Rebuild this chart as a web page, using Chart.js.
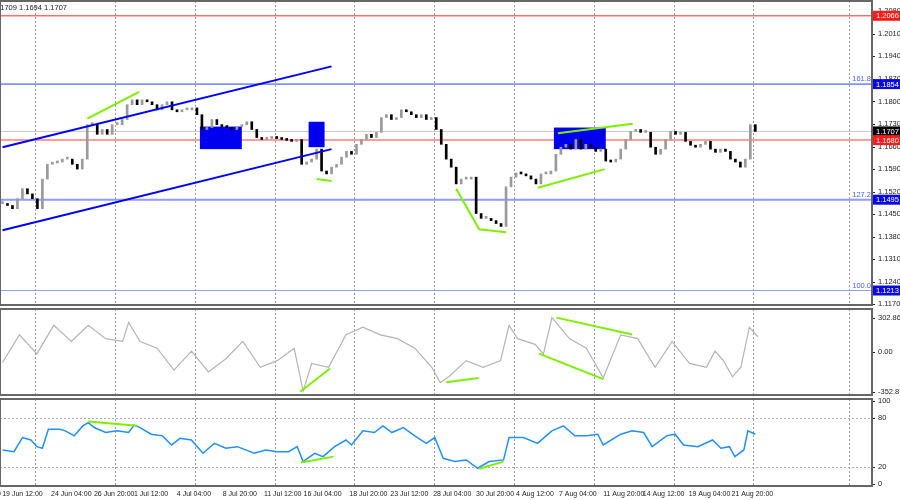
<!DOCTYPE html>
<html><head><meta charset="utf-8">
<script src="https://cdn.jsdelivr.net/npm/chart.js@4.4.1/dist/chart.umd.min.js"></script>
<style>
html,body{margin:0;padding:0;background:#fff;width:900px;height:500px;overflow:hidden}
.w{position:absolute;left:0;width:900px}
#a{top:0;height:306px}#b{top:306px;height:90px}#c{top:396px;height:104px}
</style></head><body>
<div class="w" id="a"><canvas id="c1"></canvas></div>
<div class="w" id="b"><canvas id="c2"></canvas></div>
<div class="w" id="c"><canvas id="c3"></canvas></div>
<script>
// ---- data ----
const closes=[1.1483,1.1477,1.1467,1.1498,1.1529,1.1513,1.1498,1.1467,1.1559,1.1605,1.1609,1.1612,1.1621,1.1621,1.1605,1.1590,1.1621,1.1728,1.1728,1.1698,
1.1713,1.1698,1.1728,1.1728,1.1744,1.1790,1.1805,1.1790,1.1805,1.1799,1.1790,1.1774,1.1790,1.1799,1.1774,1.1768,1.1774,1.1774,1.1780,1.1759,
1.1713,1.1719,1.1744,1.1728,1.1722,1.1719,1.1713,1.1722,1.1728,1.1737,1.1713,1.1688,1.1682,1.1685,1.1688,1.1685,1.1682,1.1679,1.1676,1.1682,
1.1605,1.1612,1.1621,1.1652,1.1584,1.1575,1.1596,1.1605,1.1627,1.1645,1.1636,1.1667,1.1682,1.1698,1.1688,1.1704,1.1750,1.1759,1.1744,1.1750,
1.1774,1.1768,1.1759,1.1750,1.1759,1.1744,1.1750,1.1713,1.1667,1.1621,1.1596,1.1544,1.1559,1.1559,1.1565,1.1452,1.1437,1.1437,1.1430,1.1421,
1.1412,1.1535,1.1565,1.1578,1.1575,1.1569,1.1559,1.1544,1.1575,1.1575,1.1584,1.1636,1.1658,1.1667,1.1652,1.1682,1.1652,1.1667,1.1658,1.1645,
1.1652,1.1615,1.1612,1.1621,1.1652,1.1682,1.1707,1.1713,1.1704,1.1704,1.1658,1.1636,1.1652,1.1682,1.1707,1.1698,1.1704,1.1676,1.1664,1.1658,
1.1667,1.1676,1.1652,1.1642,1.1652,1.1645,1.1621,1.1612,1.1596,1.1621,1.1728,1.1707];
const priceTicks=[1.2080,1.2010,1.1940,1.1870,1.1800,1.1730,1.1660,1.1590,1.1520,1.1450,1.1380,1.1310,1.1240,1.1170];
const levels=[1.2066,1.1854,1.1707,1.1680,1.1495,1.1213];
const levelColors=['#ff2a2a','#2a40ff','#c8c8c8','#ff9d9d','#8f9dff','#8f9dff'];
const levelWidths=[1,1,1,2,2,1];
const priceBoxes=[[1.2066,'#ff1a1a'],[1.1854,'#0a0ae0'],[1.1707,'#000000'],[1.1680,'#ff1a1a'],[1.1495,'#0a0ae0'],[1.1213,'#0a0ae0']];
const fibLabels=[['161.8',1.1854],['127.2',1.1495],['100.0',1.1213]];
const channelUp=[[0,1.1658],[66,1.1909]], channelDn=[[0,1.1400],[66,1.1652]];
const greenPrice=[[[17,1.1747],[27.4,1.1830]],[[63,1.1559],[66,1.1553]],[[91,1.1529],[95.6,1.1403],[101,1.1394]],[[107.4,1.1532],[120.8,1.1590]],[[111.4,1.1701],[126.4,1.1731]]];
const boxes=[[39.6,48,1.1722,1.1652],[61.4,64.6,1.1737,1.1658],[110.6,121,1.1719,1.1652]];
const cciX=[0,3.4,6.9,10.3,13.8,17.2,20.7,24.1,25.3,27.6,31,34.4,37.9,41.3,44.8,48.2,51.7,55.1,58.5,60.3,62,65.4,68.9,72.3,75.8,79.2,82.7,86.1,87.8,89.5,93,96.4,99.9,101.6,103.3,106.8,108.5,110.2,113.7,117.1,120.5,124,127.4,130.9,134.3,137.8,141.2,142.9,144.6,146.4,148.1,149.8,151.5];
const cciV=[-94,153,-17,238,94,238,119,94,264,94,34,-162,8,-178,-60,94,-136,-77,34,-349,-102,-136,153,221,153,119,34,-136,-272,-221,-77,-136,-77,238,119,68,-17,306,119,34,-230,153,119,-136,94,-102,-136,8,-77,-221,-136,221,136];
const cciTicks=[[302.8654,'302.8654'],[0,'0.00'],[-352.872,'-352.872']];
const cciGreen=[[[59.7,-354],[65.7,-147]],[[89,-269],[95.5,-232]],[[111.1,306],[126.3,156]],[[107.6,-14],[120.5,-241]]];
const rsiX=[0,2.3,4,5.7,6.9,8,9.2,11.5,12.6,14.4,16.1,17.2,18.4,20.7,23,25.3,26.4,27.6,29.8,32.1,33.9,35.6,37.9,40.2,42.5,44.8,47.1,50.5,52.8,55.1,57.4,59.1,60.3,62.6,64.3,66.6,68.9,70,72.3,74.6,76.3,78.1,80.4,82.7,85,86.7,88.4,90.7,93,95.3,97.6,100.5,101.6,104.5,107.3,110.2,112.5,114.8,117.1,119.4,120.5,124,126.3,128.6,130.3,133.2,134.9,136.6,139.5,142.4,144.1,145.8,146.9,148.7,149.5,151];
const rsiV=[41,39,56,53,45,43,66,66,64,58,70,74,68,62,64,62,71,68,60,58,47,55,53,37,49,43,45,37,41,39,39,45,27,37,33,45,53,47,64,62,70,62,68,58,49,56,31,27,29,19,27,29,56,56,49,64,70,58,58,60,47,60,64,62,45,58,60,47,45,53,43,45,33,41,64,60];
const rsiTicks=[[100,'100'],[80,'80'],[20,'20'],[0,'0']];
const rsiGreen=[[[17.2,75.3],[27,70.2]],[[59.9,26],[66.4,33]],[[95.6,18.4],[100.5,27]]];
const dateLabels=['19 Jun 12:00','24 Jun 04:00','26 Jun 20:00','1 Jul 12:00','4 Jul 04:00','8 Jul 20:00','11 Jul 12:00','16 Jul 04:00','18 Jul 20:00','23 Jul 12:00','28 Jul 04:00','30 Jul 20:00','4 Aug 12:00','7 Aug 04:00','11 Aug 20:00','14 Aug 12:00','19 Aug 04:00','21 Aug 20:00'];
const dateAt=[4,13.8,22.4,29.8,38.4,47.6,56.2,64.2,73.4,81.6,90.2,98.8,106.8,115.4,124.6,132.6,141.8,150.4];
const vGrid=[6.6,22.6,38.6,54.6,70.6,86.6,102.6,118.6,134.6,150.6,169.8];

// ---- helpers ----
const XMAX=174.4, SF='7.5px "Liberation Sans", Arial', DF='7px "Liberation Sans", Arial';
Chart.defaults.font.family='"Liberation Sans", Arial';
const xScale={type:'linear',min:-0.5,max:XMAX,display:false,offset:false};
function yAxis(min,max){return {display:false,min,max};}
function seg(pts,color,w){return {type:'line',data:pts.map(p=>({x:p[0],y:p[1]})),borderColor:color,borderWidth:w,pointRadius:0,tension:0,order:0};}
function tickPlug(list){return {id:'t',afterDraw(c){const y=c.scales.y,a=c.chartArea,g=c.ctx;g.save();g.font=SF;g.fillStyle='#222';g.textBaseline='middle';g.textAlign='left';
 list.forEach(t=>{const p=y.getPixelForValue(t[0]);g.fillText(t[1],a.right+6,p);g.fillRect(a.right,Math.round(p),3,1);});g.restore();}};}
const gridPlug={id:'g',beforeDatasetsDraw(c){const x=c.scales.x,a=c.chartArea,g=c.ctx;g.save();g.strokeStyle='#9a9a9a';g.setLineDash([2,2]);g.lineWidth=1;
 vGrid.forEach(v=>{const p=Math.round(x.getPixelForValue(v))+.5;g.beginPath();g.moveTo(p,a.top);g.lineTo(p,a.bottom);g.stroke();});g.restore();}};
const frame={id:'f',afterDraw(c){const a=c.chartArea,g=c.ctx;g.save();g.strokeStyle='#666';g.lineWidth=2;g.strokeRect(a.left,a.top,a.right-a.left,a.bottom-a.top);g.restore();}};
const opts=(y,pad)=>({responsive:true,maintainAspectRatio:false,animation:false,layout:{padding:Object.assign({left:0,right:28,top:1,bottom:1},pad||{})},plugins:{legend:{display:false},tooltip:{enabled:false}},scales:{x:xScale,y}});

// ---- price panel ----
const bodies=closes.map((c,i)=>({x:i,y:[i?closes[i-1]:c,c]}));
const pricePlug={id:'p',beforeDatasetsDraw(c){const x=c.scales.x,y=c.scales.y,a=c.chartArea,g=c.ctx;g.save();
 levels.forEach((l,i)=>{const p=y.getPixelForValue(l);g.strokeStyle=levelColors[i];g.lineWidth=levelWidths[i];g.beginPath();g.moveTo(a.left,p);g.lineTo(a.right,p);g.stroke();});
 g.fillStyle='#0000f0';boxes.forEach(b=>{const x1=x.getPixelForValue(b[0]),x2=x.getPixelForValue(b[1]),y1=y.getPixelForValue(b[2]),y2=y.getPixelForValue(b[3]);g.fillRect(x1,y1,x2-x1,y2-y1);});
 g.font=SF;g.fillStyle='#5060ff';g.textAlign='right';fibLabels.forEach(f=>g.fillText(f[0],a.right-1,y.getPixelForValue(f[1])-3));
 g.restore();},
 afterDraw(c){const y=c.scales.y,a=c.chartArea,g=c.ctx;g.save();g.font=SF;g.textBaseline='middle';
 priceBoxes.forEach(b=>{const p=y.getPixelForValue(b[0]);g.fillStyle=b[1];g.fillRect(a.right+1,p-5,27,10);g.fillStyle='#fff';g.textAlign='left';g.fillText(b[0].toFixed(4),a.right+4,p+0.5);});
 g.fillStyle='#222';g.textBaseline='alphabetic';g.fillText('1.1709 1.1694 1.1707',-6,10);g.restore();}};
new Chart(document.getElementById('c1'),{type:'bar',data:{datasets:[
 {type:'bar',data:bodies,backgroundColor:bodies.map(b=>b.y[1]>=b.y[0]?'#9a9a9a':'#000'),borderWidth:0,barThickness:2,minBarLength:2,order:1},
 seg(channelUp,'#0000ff',2),seg(channelDn,'#0000ff',2),...greenPrice.map(s=>seg(s,'#7cf000',2))]},
 options:opts(yAxis(1.1168,1.2112)),plugins:[gridPlug,tickPlug(priceTicks.map(v=>[v,v.toFixed(4)])),pricePlug,frame]});

// ---- CCI panel ----
new Chart(document.getElementById('c2'),{type:'line',data:{datasets:[
 {data:cciX.map((v,i)=>({x:v,y:cciV[i]})),borderColor:'#b4b4b4',borderWidth:1.2,pointRadius:0,tension:0,order:1},...cciGreen.map(s=>seg(s,'#7cf000',2))]},
 options:opts(yAxis(-383,383),{top:3}),plugins:[gridPlug,tickPlug(cciTicks),frame]});

// ---- RSI panel ----
const rsiPlug={id:'r',beforeDatasetsDraw(c){const y=c.scales.y,a=c.chartArea,g=c.ctx;g.save();g.strokeStyle='#aaa';g.setLineDash([2,2]);
 [80,20].forEach(v=>{const p=Math.round(y.getPixelForValue(v))+.5;g.beginPath();g.moveTo(a.left,p);g.lineTo(a.right,p);g.stroke();});g.restore();},
 afterDraw(c){const x=c.scales.x,a=c.chartArea,g=c.ctx;g.save();g.font=DF;g.fillStyle='#222';g.textAlign='center';
 dateLabels.forEach((d,i)=>g.fillText(d,x.getPixelForValue(dateAt[i]),a.bottom+10));g.textAlign='left';g.fillText('9',-3,a.bottom+10);g.restore();}};
new Chart(document.getElementById('c3'),{type:'line',data:{datasets:[
 {data:rsiX.map((v,i)=>({x:v,y:rsiV[i]})),borderColor:'#1e90ff',borderWidth:1.5,pointRadius:0,tension:0,order:1},...rsiGreen.map(s=>seg(s,'#7cf000',2))]},
 options:opts(yAxis(-2.4,102.4),{top:3,bottom:14}),plugins:[gridPlug,rsiPlug,tickPlug(rsiTicks),frame]});
</script></body></html>
